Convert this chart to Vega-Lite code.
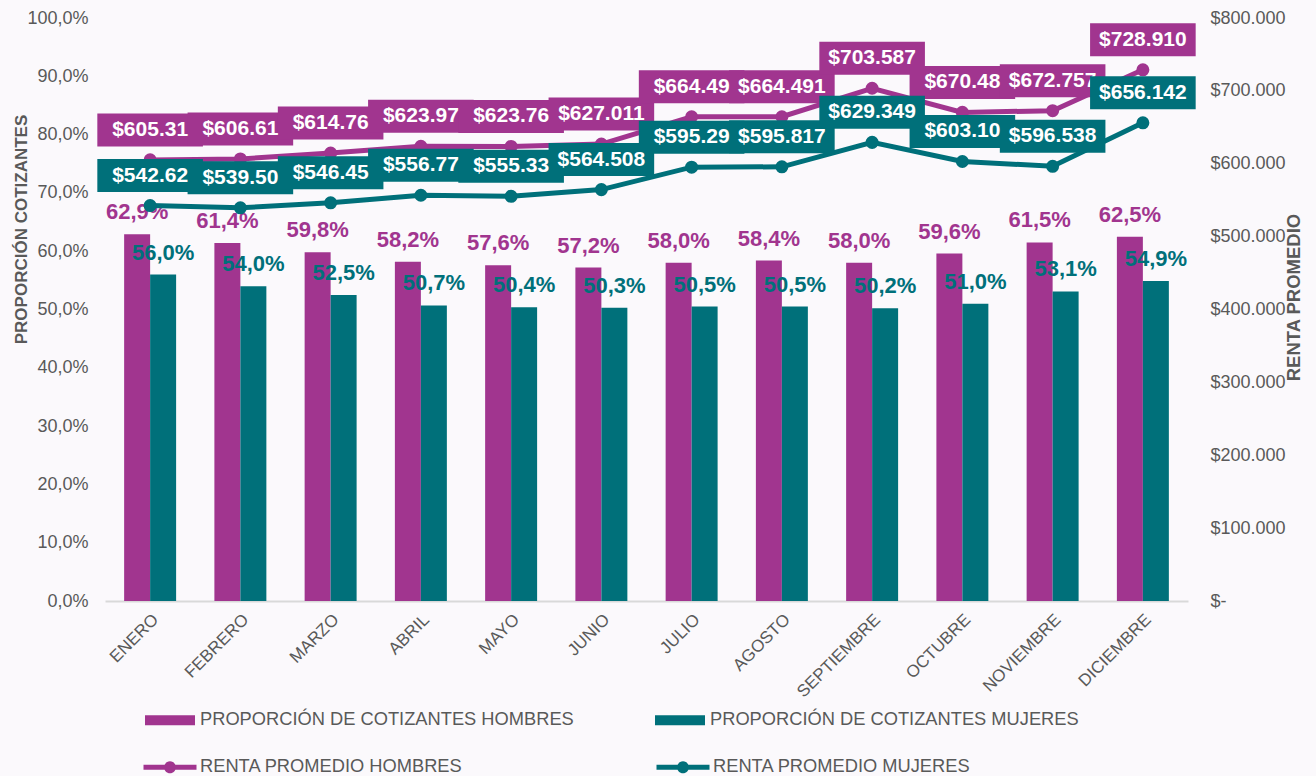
{
  "$schema": "https://vega.github.io/schema/vega-lite/v6.json",
  "width": 1083,
  "height": 583,
  "autosize": {"type": "none"},
  "padding": {"left": 105, "top": 18, "right": 128, "bottom": 175},
  "background": "#FBF9FC",
  "config": {
    "view": {"stroke": null},
    "font": "Liberation Sans",
    "locale": {"number": {"decimal": ",", "thousands": ".", "grouping": [3], "currency": ["$", ""]}},
    "axis": {"labelFont": "Liberation Sans", "titleFont": "Liberation Sans", "labelColor": "#595959", "titleColor": "#595959", "labelFontSize": 18, "titleFontSize": 17, "titleFontWeight": "bold", "grid": false, "ticks": false},
    "legend": {"orient": "none", "direction": "horizontal", "columns": 2, "padding": 0, "labelFont": "Liberation Sans", "labelFontSize": 18.3, "labelColor": "#595959", "title": null, "symbolSize": 2500, "labelOffset": 5, "symbolOpacity": 1, "symbolStrokeWidth": 0, "labelLimit": 600}
  },
  "datasets": {
    "bars": [
      {"mes": "ENERO", "serie": "PROPORCIÓN DE COTIZANTES HOMBRES", "valor": 0.629},
      {"mes": "ENERO", "serie": "PROPORCIÓN DE COTIZANTES MUJERES", "valor": 0.560},
      {"mes": "FEBRERO", "serie": "PROPORCIÓN DE COTIZANTES HOMBRES", "valor": 0.614},
      {"mes": "FEBRERO", "serie": "PROPORCIÓN DE COTIZANTES MUJERES", "valor": 0.540},
      {"mes": "MARZO", "serie": "PROPORCIÓN DE COTIZANTES HOMBRES", "valor": 0.598},
      {"mes": "MARZO", "serie": "PROPORCIÓN DE COTIZANTES MUJERES", "valor": 0.525},
      {"mes": "ABRIL", "serie": "PROPORCIÓN DE COTIZANTES HOMBRES", "valor": 0.582},
      {"mes": "ABRIL", "serie": "PROPORCIÓN DE COTIZANTES MUJERES", "valor": 0.507},
      {"mes": "MAYO", "serie": "PROPORCIÓN DE COTIZANTES HOMBRES", "valor": 0.576},
      {"mes": "MAYO", "serie": "PROPORCIÓN DE COTIZANTES MUJERES", "valor": 0.504},
      {"mes": "JUNIO", "serie": "PROPORCIÓN DE COTIZANTES HOMBRES", "valor": 0.572},
      {"mes": "JUNIO", "serie": "PROPORCIÓN DE COTIZANTES MUJERES", "valor": 0.503},
      {"mes": "JULIO", "serie": "PROPORCIÓN DE COTIZANTES HOMBRES", "valor": 0.580},
      {"mes": "JULIO", "serie": "PROPORCIÓN DE COTIZANTES MUJERES", "valor": 0.505},
      {"mes": "AGOSTO", "serie": "PROPORCIÓN DE COTIZANTES HOMBRES", "valor": 0.584},
      {"mes": "AGOSTO", "serie": "PROPORCIÓN DE COTIZANTES MUJERES", "valor": 0.505},
      {"mes": "SEPTIEMBRE", "serie": "PROPORCIÓN DE COTIZANTES HOMBRES", "valor": 0.580},
      {"mes": "SEPTIEMBRE", "serie": "PROPORCIÓN DE COTIZANTES MUJERES", "valor": 0.502},
      {"mes": "OCTUBRE", "serie": "PROPORCIÓN DE COTIZANTES HOMBRES", "valor": 0.596},
      {"mes": "OCTUBRE", "serie": "PROPORCIÓN DE COTIZANTES MUJERES", "valor": 0.510},
      {"mes": "NOVIEMBRE", "serie": "PROPORCIÓN DE COTIZANTES HOMBRES", "valor": 0.615},
      {"mes": "NOVIEMBRE", "serie": "PROPORCIÓN DE COTIZANTES MUJERES", "valor": 0.531},
      {"mes": "DICIEMBRE", "serie": "PROPORCIÓN DE COTIZANTES HOMBRES", "valor": 0.625},
      {"mes": "DICIEMBRE", "serie": "PROPORCIÓN DE COTIZANTES MUJERES", "valor": 0.549}
    ],
    "lines": [
      {"mes": "ENERO", "serie": "RENTA PROMEDIO HOMBRES", "renta": 605310, "etiqueta": "$605.31"},
      {"mes": "FEBRERO", "serie": "RENTA PROMEDIO HOMBRES", "renta": 606610, "etiqueta": "$606.61"},
      {"mes": "MARZO", "serie": "RENTA PROMEDIO HOMBRES", "renta": 614760, "etiqueta": "$614.76"},
      {"mes": "ABRIL", "serie": "RENTA PROMEDIO HOMBRES", "renta": 623970, "etiqueta": "$623.97"},
      {"mes": "MAYO", "serie": "RENTA PROMEDIO HOMBRES", "renta": 623760, "etiqueta": "$623.76"},
      {"mes": "JUNIO", "serie": "RENTA PROMEDIO HOMBRES", "renta": 627011, "etiqueta": "$627.011"},
      {"mes": "JULIO", "serie": "RENTA PROMEDIO HOMBRES", "renta": 664490, "etiqueta": "$664.49"},
      {"mes": "AGOSTO", "serie": "RENTA PROMEDIO HOMBRES", "renta": 664491, "etiqueta": "$664.491"},
      {"mes": "SEPTIEMBRE", "serie": "RENTA PROMEDIO HOMBRES", "renta": 703587, "etiqueta": "$703.587"},
      {"mes": "OCTUBRE", "serie": "RENTA PROMEDIO HOMBRES", "renta": 670480, "etiqueta": "$670.48"},
      {"mes": "NOVIEMBRE", "serie": "RENTA PROMEDIO HOMBRES", "renta": 672757, "etiqueta": "$672.757"},
      {"mes": "DICIEMBRE", "serie": "RENTA PROMEDIO HOMBRES", "renta": 728910, "etiqueta": "$728.910"},
      {"mes": "ENERO", "serie": "RENTA PROMEDIO MUJERES", "renta": 542620, "etiqueta": "$542.62"},
      {"mes": "FEBRERO", "serie": "RENTA PROMEDIO MUJERES", "renta": 539500, "etiqueta": "$539.50"},
      {"mes": "MARZO", "serie": "RENTA PROMEDIO MUJERES", "renta": 546450, "etiqueta": "$546.45"},
      {"mes": "ABRIL", "serie": "RENTA PROMEDIO MUJERES", "renta": 556770, "etiqueta": "$556.77"},
      {"mes": "MAYO", "serie": "RENTA PROMEDIO MUJERES", "renta": 555330, "etiqueta": "$555.33"},
      {"mes": "JUNIO", "serie": "RENTA PROMEDIO MUJERES", "renta": 564508, "etiqueta": "$564.508"},
      {"mes": "JULIO", "serie": "RENTA PROMEDIO MUJERES", "renta": 595290, "etiqueta": "$595.29"},
      {"mes": "AGOSTO", "serie": "RENTA PROMEDIO MUJERES", "renta": 595817, "etiqueta": "$595.817"},
      {"mes": "SEPTIEMBRE", "serie": "RENTA PROMEDIO MUJERES", "renta": 629349, "etiqueta": "$629.349"},
      {"mes": "OCTUBRE", "serie": "RENTA PROMEDIO MUJERES", "renta": 603100, "etiqueta": "$603.10"},
      {"mes": "NOVIEMBRE", "serie": "RENTA PROMEDIO MUJERES", "renta": 596538, "etiqueta": "$596.538"},
      {"mes": "DICIEMBRE", "serie": "RENTA PROMEDIO MUJERES", "renta": 656142, "etiqueta": "$656.142"}
    ]
  },
  "layer": [
    {
      "data": {"name": "bars"},
      "encoding": {
        "x": {"field": "mes", "type": "nominal", "title": null,
              "scale": {"domain": ["ENERO","FEBRERO","MARZO","ABRIL","MAYO","JUNIO","JULIO","AGOSTO","SEPTIEMBRE","OCTUBRE","NOVIEMBRE","DICIEMBRE"], "paddingInner": 0.424, "paddingOuter": 0.212},
              "axis": {"labelAngle": -45, "labelFontSize": 17, "domainColor": "#D9D9D9", "domainWidth": 2, "labelPadding": 10}},
        "xOffset": {"field": "serie", "type": "nominal", "scale": {"paddingInner": 0, "paddingOuter": 0}},
        "y": {"field": "valor", "type": "quantitative",
              "scale": {"domain": [0, 1]},
              "axis": {"orient": "left", "format": ".1%", "values": [0,0.1,0.2,0.3,0.4,0.5,0.6,0.7,0.8,0.9,1], "domain": false, "labelPadding": 17, "title": "PROPORCIÓN COTIZANTES", "titleAngle": -90, "titleX": -84, "titleY": 211, "titleAlign": "center", "titleBaseline": "middle"}},
        "color": {"field": "serie", "type": "nominal",
                  "scale": {"domain": ["PROPORCIÓN DE COTIZANTES HOMBRES", "PROPORCIÓN DE COTIZANTES MUJERES"], "range": ["#A1358F", "#00707A"]},
                  "legend": {"legendX": 40, "legendY": 677, "symbolType": "M-1,-0.2H1V0.2H-1Z", "columnPadding": 81}}
      },
      "layer": [
        {"mark": {"type": "bar"}},
        {"mark": {"type": "text", "fontSize": 22, "fontWeight": "bold", "baseline": "middle", "dy": -22},
         "encoding": {"text": {"field": "valor", "type": "quantitative", "format": ".1%"}}}
      ]
    },
    {
      "data": {"name": "lines"},
      "encoding": {
        "x": {"field": "mes", "type": "nominal", "title": null},
        "y": {"field": "renta", "type": "quantitative",
              "scale": {"domain": [0, 800000]},
              "axis": {"orient": "right", "values": [0,100000,200000,300000,400000,500000,600000,700000,800000], "labelExpr": "datum.value == 0 ? '$-' : format(datum.value, '$,.0f')", "domain": false, "labelPadding": 22, "title": "RENTA PROMEDIO", "titleFontSize": 18.5, "titleAngle": -90, "titleX": 105, "titleY": 279, "titleAlign": "center", "titleBaseline": "middle"}}
      },
      "layer": [
        {"mark": {"type": "line", "strokeWidth": 5, "point": {"filled": true, "size": 170, "opacity": 1}},
         "encoding": {"color": {"field": "serie", "type": "nominal",
                  "scale": {"domain": ["RENTA PROMEDIO HOMBRES", "RENTA PROMEDIO MUJERES"], "range": ["#A1358F", "#00707A"]},
                  "legend": {"legendX": 40, "legendY": 724, "symbolType": "M-1.06,-0.1H1.06V0.1H-1.06Z M-0.24,0A0.24,0.24 0 1,1 0.24,0A0.24,0.24 0 1,1 -0.24,0Z", "columnPadding": 193}}}},
        {"transform": [{"filter": {"field": "serie", "equal": "RENTA PROMEDIO HOMBRES"}}],
         "mark": {"type": "point", "shape": "M-1.6,-0.5H1.6V0.5H-1.6Z", "size": 4356, "filled": true, "opacity": 1, "color": "#A1358F", "strokeWidth": 0, "yOffset": -30}},
        {"transform": [{"filter": {"field": "serie", "equal": "RENTA PROMEDIO HOMBRES"}}],
         "mark": {"type": "text", "color": "white", "fontSize": 21, "fontWeight": "bold", "baseline": "middle", "dy": -30},
         "encoding": {"text": {"field": "etiqueta", "type": "nominal"}}},
        {"transform": [{"filter": {"field": "serie", "equal": "RENTA PROMEDIO MUJERES"}}],
         "mark": {"type": "point", "shape": "M-1.6,-0.5H1.6V0.5H-1.6Z", "size": 4356, "filled": true, "opacity": 1, "color": "#00707A", "strokeWidth": 0, "yOffset": -30}},
        {"transform": [{"filter": {"field": "serie", "equal": "RENTA PROMEDIO MUJERES"}}],
         "mark": {"type": "text", "color": "white", "fontSize": 21, "fontWeight": "bold", "baseline": "middle", "dy": -30},
         "encoding": {"text": {"field": "etiqueta", "type": "nominal"}}}
      ]
    }
  ],
  "resolve": {"scale": {"y": "independent", "color": "independent"}}
}
